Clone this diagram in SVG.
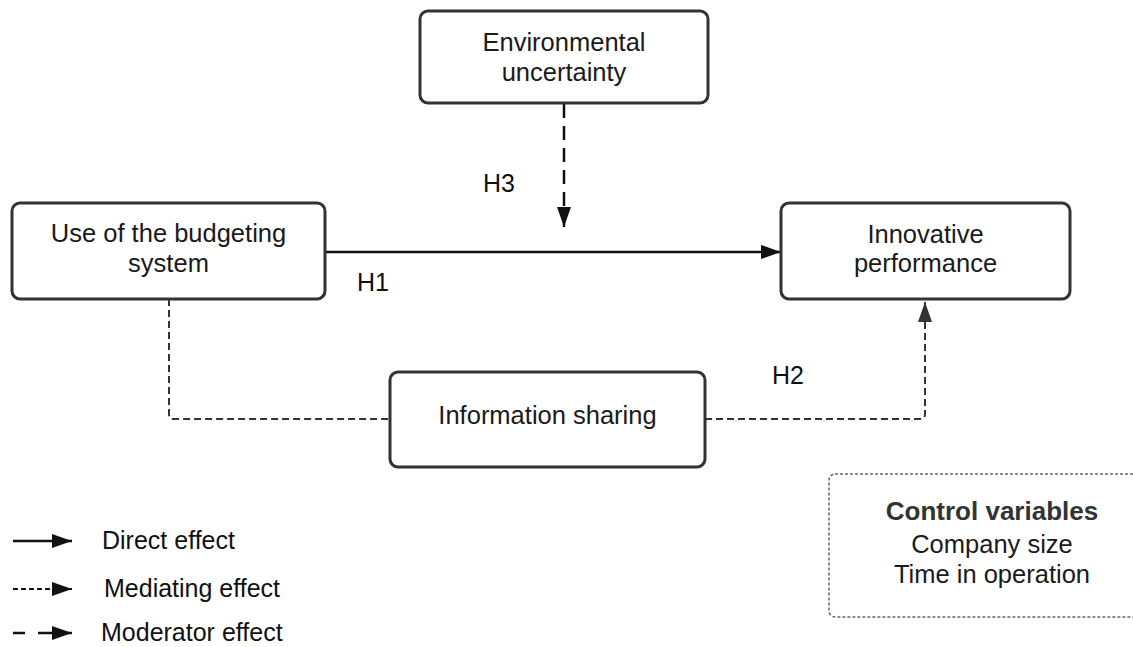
<svg xmlns="http://www.w3.org/2000/svg" width="1133" height="647" viewBox="0 0 1133 647">
  <defs>
    <marker id="arr" viewBox="0 0 20 14" refX="20" refY="7" markerWidth="20" markerHeight="14" markerUnits="userSpaceOnUse" orient="auto">
      <path d="M0,0 L20,7 L0,14 Z" fill="#111"/>
    </marker>
    <marker id="arrg" viewBox="0 0 20 14" refX="20" refY="7" markerWidth="20" markerHeight="14" markerUnits="userSpaceOnUse" orient="auto">
      <path d="M0,0 L20,7 L0,14 Z" fill="#333"/>
    </marker>
  </defs>
  <style>
    .box { fill: #fff; stroke: #333; stroke-width: 3; }
    .lbl { font-family: "Liberation Sans", Arial, sans-serif; font-size: 25.5px; fill: #1a1a1a; text-anchor: middle; }
    .h { font-family: "Liberation Sans", Arial, sans-serif; font-size: 25px; fill: #111; }
    .leg { font-family: "Liberation Sans", Arial, sans-serif; font-size: 25px; fill: #111; }
    .direct { fill: none; stroke: #111; stroke-width: 2.5; }
    .med { fill: none; stroke: #333; stroke-width: 2; stroke-dasharray: 7 4; }
    .mod { fill: none; stroke: #111; stroke-width: 2.5; stroke-dasharray: 14 8; }
    .ctrl { fill: #fff; stroke: #666; stroke-width: 1.5; stroke-dasharray: 3 2; }
  </style>

  <g id="connectors">
    <path class="direct" d="M325,252 H781" marker-end="url(#arr)"/>
    <path class="mod" d="M564,104 V227" marker-end="url(#arr)"/>
    <path class="med" d="M169,299 V414 Q169,419 174,419 H390"/>
    <path class="med" d="M705,419 H920 Q925,419 925,414 V302" marker-end="url(#arrg)"/>
  </g>

  <g id="node-environmental">
    <rect class="box" x="420" y="11" width="288" height="92" rx="8"/>
    <text class="lbl" x="564" y="51">Environmental</text>
    <text class="lbl" x="564" y="81">uncertainty</text>
  </g>

  <g id="node-budgeting">
    <rect class="box" x="12" y="203" width="313" height="96" rx="8"/>
    <text class="lbl" x="168.5" y="242">Use of the budgeting</text>
    <text class="lbl" x="168.5" y="272">system</text>
  </g>

  <g id="node-innovative">
    <rect class="box" x="781" y="203" width="289" height="96" rx="8"/>
    <text class="lbl" x="925.5" y="243">Innovative</text>
    <text class="lbl" x="925.5" y="272">performance</text>
  </g>

  <g id="node-information">
    <rect class="box" x="390" y="372" width="315" height="95" rx="8"/>
    <text class="lbl" x="547.5" y="424">Information sharing</text>
  </g>

  <g id="hypotheses">
    <text class="h" x="357" y="291">H1</text>
    <text class="h" x="772" y="384">H2</text>
    <text class="h" x="483" y="192">H3</text>
  </g>

  <g id="node-controls">
    <rect class="ctrl" x="829" y="474" width="320" height="143" rx="6"/>
    <text class="lbl" x="992" y="520" style="font-weight:bold; fill:#333; font-size:26px">Control variables</text>
    <text class="lbl" x="992" y="553">Company size</text>
    <text class="lbl" x="992" y="583">Time in operation</text>
  </g>

  <g id="legend">
    <path class="direct" d="M13,541 H72" marker-end="url(#arr)"/>
    <text class="leg" x="102" y="549">Direct effect</text>
    <path d="M13,589 H72" fill="none" stroke="#111" stroke-width="2" stroke-dasharray="5 3" marker-end="url(#arr)"/>
    <path d="M52,589 H60" fill="none" stroke="#111" stroke-width="2"/>
    <text class="leg" x="104" y="597">Mediating effect</text>
    <path d="M13,633 H25 M38,633 H72" fill="none" stroke="#111" stroke-width="2.5" marker-end="url(#arr)"/>
    <text class="leg" x="101" y="641">Moderator effect</text>
  </g>
</svg>
